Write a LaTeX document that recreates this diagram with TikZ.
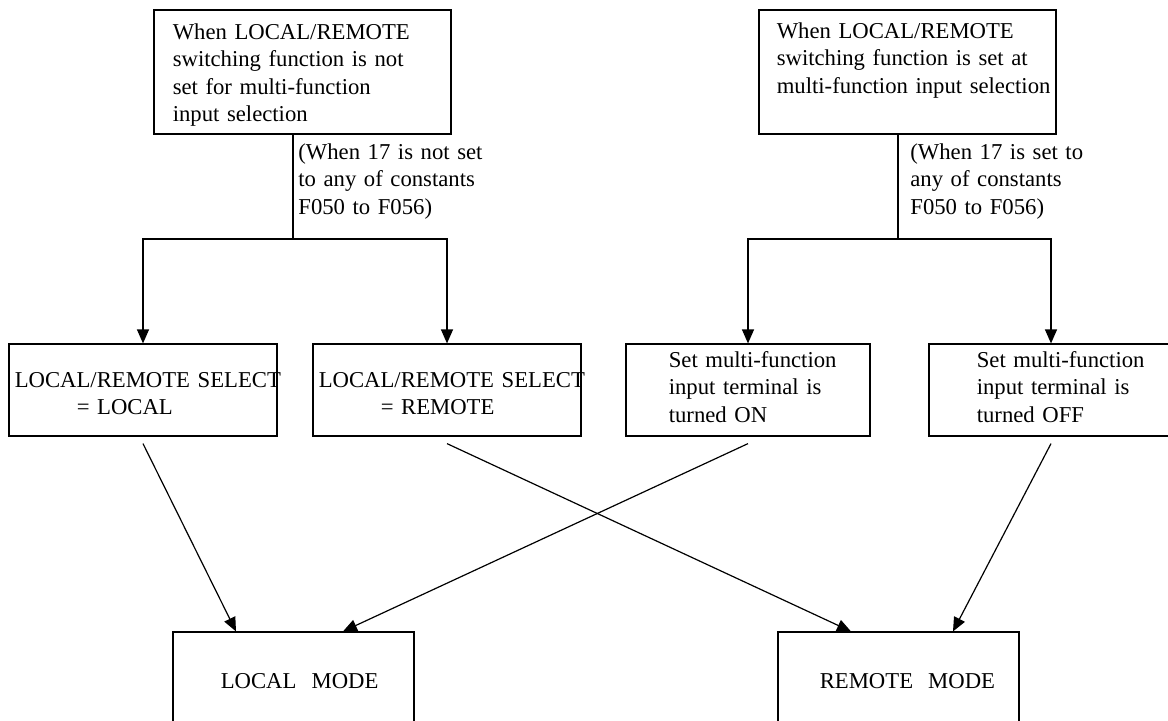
\documentclass[tikz,border=0pt]{standalone}
\usepackage{fontspec}
\setmainfont{Liberation Serif}
\usepackage{tikz}
\usetikzlibrary{positioning, arrows.meta, calc}

\begin{document}
\begin{tikzpicture}[x=0.5pt, y=-0.5pt,
    font=\fontsize{11.35pt}{13.75pt}\selectfont,
    flowbox/.style={draw, line width=0.6pt, inner sep=0pt},
    condbox/.style={flowbox, minimum width=148.5pt, minimum height=62pt},
    selbox/.style={flowbox, minimum width=134pt, minimum height=46pt},
    termbox/.style={flowbox, minimum width=122pt, minimum height=46pt},
    modebox/.style={flowbox, minimum width=120.5pt, minimum height=51pt},
    txt/.style={inner sep=0pt, align=left, text width=200pt, anchor=base west},
    link/.style={line width=0.6pt},
    arr/.style={link, -{Triangle[length=7pt, width=6pt]}}]
  \useasboundingbox (0,0) rectangle (1168,720);

  \node[condbox] (cond_off) at (302.5,72) {};
  \node[condbox] (cond_on) at (907.5,72) {};
  \node[txt] (cond_off_txt) at ([xshift=9.5pt, yshift=-15pt]cond_off.north west)
       {When LOCAL/REMOTE\\ switching function is not\\ set for multi-function\\ input selection};
  \node[txt] (cond_on_txt) at ([xshift=9pt, yshift=-14.5pt]cond_on.north west)
       {When LOCAL/REMOTE\\ switching function is set at\\ multi-function input selection};

  \node[txt] (cond_off_note) at (298,159) {(When 17 is not set\\ to any of constants\\ F050 to F056)};
  \node[txt] (cond_on_note) at (910,159) {(When 17 is set to\\ any of constants\\ F050 to F056)};

  \node[selbox] (sel_local) at (143,390) {};
  \node[selbox] (sel_remote) at (447,390) {};
  \node[termbox] (term_on) at (748,390) {};
  \node[termbox] (term_off) at (1051,390) {};
  \node[txt] (sel_local_txt) at ([xshift=3pt, yshift=-22pt]sel_local.north west)
       {LOCAL/REMOTE SELECT\\ \hspace*{31pt}= LOCAL};
  \node[txt] (sel_remote_txt) at ([xshift=3pt, yshift=-22pt]sel_remote.north west)
       {LOCAL/REMOTE SELECT\\ \hspace*{31pt}= REMOTE};
  \node[txt] (term_on_txt) at ([xshift=21.5pt, yshift=-12pt]term_on.north west)
       {Set multi-function\\ input terminal is\\ turned ON};
  \node[txt] (term_off_txt) at ([xshift=24pt, yshift=-12pt]term_off.north west)
       {Set multi-function\\ input terminal is\\ turned OFF};

  \node[modebox] (mode_local) at (293.5,683) {};
  \node[modebox] (mode_remote) at (898.5,683) {};
  \node[txt] (mode_local_txt) at ([xshift=24pt, yshift=-28.5pt]mode_local.north west) {LOCAL~~MODE};
  \node[txt] (mode_remote_txt) at ([xshift=21pt, yshift=-28.5pt]mode_remote.north west) {REMOTE~~MODE};

  \coordinate (split_off) at (293,239);
  \coordinate (split_on) at (898,239);
  \draw[link] (cond_off.south -| split_off) -- (split_off);
  \draw[link] (cond_on.south -| split_on) -- (split_on);
  \draw[arr] (split_off) -| (sel_local.north);
  \draw[arr] (split_off) -| (sel_remote.north);
  \draw[arr] (split_on) -| (term_on.north);
  \draw[arr] (split_on) -| (term_off.north);

  \draw[arr] ([yshift=-3.5pt]sel_local.south) -- ([xshift=-28.75pt]mode_local.north);
  \draw[arr] ([yshift=-3.5pt]term_on.south) -- ([xshift=24.75pt]mode_local.north);
  \draw[arr] ([yshift=-3.5pt]sel_remote.south) -- ([xshift=-23.75pt]mode_remote.north);
  \draw[arr] ([yshift=-3.5pt]term_off.south) -- ([xshift=27.25pt]mode_remote.north);
\end{tikzpicture}
\end{document}
